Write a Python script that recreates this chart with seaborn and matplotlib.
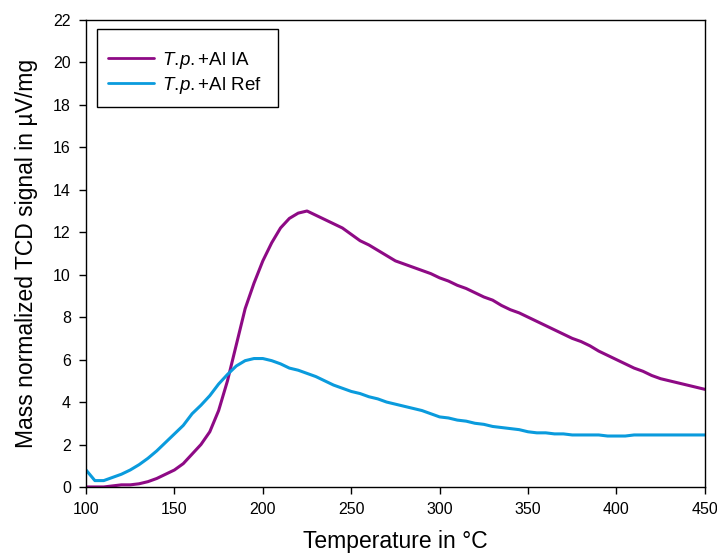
import numpy as np
import pandas as pd
import matplotlib
matplotlib.use("Agg")
import matplotlib.pyplot as plt
from matplotlib.patches import Rectangle
import seaborn as sns

# Temperature grid (°C) and signals
temperature = list(range(100, 451, 5))

signal_ia = [0.0, 0.0, 0.0, 0.05, 0.1, 0.1, 0.15, 0.25, 0.4, 0.6,
             0.8, 1.1, 1.55, 2.0, 2.6, 3.6, 5.0, 6.7, 8.4, 9.6,
             10.65, 11.5, 12.2, 12.65, 12.9, 13.0, 12.8, 12.6, 12.4, 12.2,
             11.9, 11.6, 11.4, 11.15, 10.9, 10.65, 10.5, 10.35, 10.2, 10.05,
             9.85, 9.7, 9.5, 9.35, 9.15, 8.95, 8.8, 8.55, 8.35, 8.2,
             8.0, 7.8, 7.6, 7.4, 7.2, 7.0, 6.85, 6.65, 6.4, 6.2,
             6.0, 5.8, 5.6, 5.45, 5.25, 5.1, 5.0, 4.9, 4.8, 4.7, 4.6]

signal_ref = [0.8, 0.3, 0.3, 0.45, 0.6, 0.8, 1.05, 1.35, 1.7, 2.1,
              2.5, 2.9, 3.45, 3.85, 4.3, 4.85, 5.3, 5.7, 5.95, 6.05,
              6.05, 5.95, 5.8, 5.6, 5.5, 5.35, 5.2, 5.0, 4.8, 4.65,
              4.5, 4.4, 4.25, 4.15, 4.0, 3.9, 3.8, 3.7, 3.6, 3.45,
              3.3, 3.25, 3.15, 3.1, 3.0, 2.95, 2.85, 2.8, 2.75, 2.7,
              2.6, 2.55, 2.55, 2.5, 2.5, 2.45, 2.45, 2.45, 2.45, 2.4,
              2.4, 2.4, 2.45, 2.45, 2.45, 2.45, 2.45, 2.45, 2.45, 2.45, 2.45]

series_names = [r"$\mathit{T.\!p.}\mathrm{{+}Al\ IA}$",
                r"$\mathit{T.\!p.}\mathrm{{+}Al\ Ref}$"]
colors = ["#8E0A85", "#0A9BDD"]

df = pd.concat([
    pd.DataFrame({"temp": temperature, "signal": signal_ia, "sample": series_names[0]}),
    pd.DataFrame({"temp": temperature, "signal": signal_ref, "sample": series_names[1]}),
])

sns.set_style("ticks")
plt.rcParams["font.family"] = ["Liberation Sans", "DejaVu Sans"]
plt.rcParams["mathtext.fontset"] = "custom"
plt.rcParams["mathtext.it"] = "Liberation Sans:italic"
plt.rcParams["mathtext.rm"] = "Liberation Sans"
plt.rcParams["text.color"] = "black"
plt.rcParams["axes.labelcolor"] = "black"

fig = plt.figure(figsize=(7.17, 5.54), dpi=100)
ax = fig.add_axes([0.120, 0.121, 0.863, 0.843])

sns.lineplot(data=df, x="temp", y="signal", hue="sample",
             palette=dict(zip(series_names, colors)), linewidth=2.2, ax=ax)

ax.set_xlim(100, 450)
ax.set_ylim(0, 22)
ax.set_xticks(range(100, 451, 50))
ax.set_yticks(range(0, 23, 2))
ax.tick_params(direction="out", length=5, width=1, labelsize=11.5,
               colors="black", pad=6)
for side in ax.spines.values():
    side.set_visible(True)
    side.set_color("black")
    side.set_linewidth(1)

ax.set_xlabel("Temperature in °C", fontsize=16.5, labelpad=9)
ax.set_ylabel("Mass normalized TCD signal in µV/mg", fontsize=16.5, labelpad=11)

# legend without its own frame, plus a box drawn around it
leg = ax.legend(loc="upper left", bbox_to_anchor=(0.150, 0.910),
                bbox_transform=fig.transFigure, fontsize=13.5, frameon=False,
                handlelength=2.5, handletextpad=0.4, borderpad=0,
                borderaxespad=0, labelspacing=0.22)
for line in leg.get_lines():
    line.set_linewidth(2)
fig.patches.append(Rectangle((0.1353, 0.8069), 0.2524, 0.1408,
                             transform=fig.transFigure, fill=False,
                             edgecolor="black", linewidth=1))

fig.savefig("out.png", dpi=100)
